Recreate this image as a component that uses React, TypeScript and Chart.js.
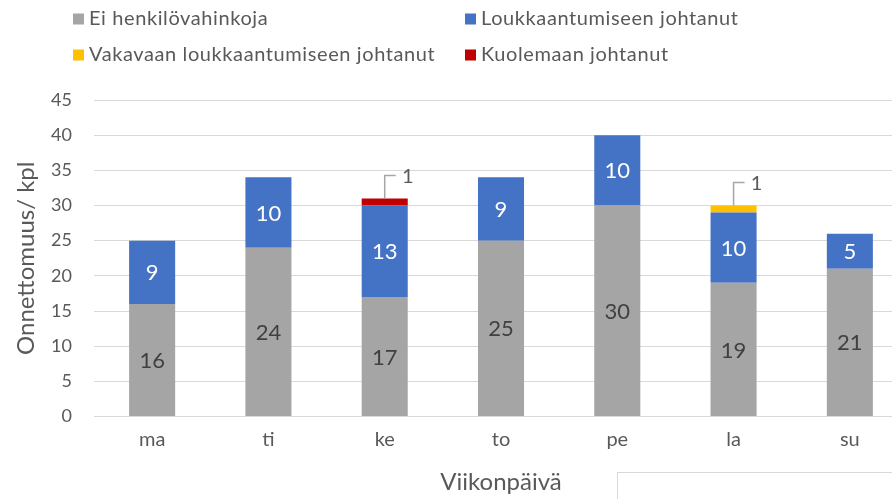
import React, { useEffect, useRef } from "react";
import { Chart, registerables } from "chart.js";

Chart.register(...registerables);

const categories = ["ma", "ti", "ke", "to", "pe", "la", "su"];
const seriesNames = [
  "Ei henkilövahinkoja",
  "Loukkaantumiseen johtanut",
  "Vakavaan loukkaantumiseen johtanut",
  "Kuolemaan johtanut",
];
const noInjury = [16, 24, 17, 25, 30, 19, 21];
const injury = [9, 10, 13, 9, 10, 10, 5];
const severeInjury = [0, 0, 0, 0, 0, 1, 0];
const fatal = [0, 0, 1, 0, 0, 0, 0];
const seriesColors = ["#A5A5A5", "#4472C4", "#FFC000", "#C00000"];
const yMax = 45;
const yStep = 5;
const yTitle = "Onnettomuus/ kpl";
const xTitle = "Viikonpäivä";

const FONT = "Lato, 'Open Sans', sans-serif";
const TEXT = "#595959";

const legendPlugin = {
  id: "gridLegend",
  afterDraw(chart: any) {
    const ctx = chart.ctx;
    const cols = [73, 465];
    const rows = [19, 55];
    ctx.save();
    chart.data.datasets.forEach((ds: any, i: number) => {
      const x = cols[i % 2];
      const y = rows[Math.floor(i / 2)];
      ctx.fillStyle = ds.backgroundColor;
      ctx.fillRect(x, y - 5.5, 11, 11);
      ctx.fillStyle = TEXT;
      ctx.font = `20px ${FONT}`;
      (ctx as any).letterSpacing = "0.6px";
      ctx.textBaseline = "middle";
      ctx.textAlign = "left";
      ctx.fillText(ds.label, x + 16, y);
    });
    (ctx as any).letterSpacing = "0px";
    ctx.restore();
  },
};

const labelPlugin = {
  id: "barLabels",
  afterDatasetsDraw(chart: any) {
    const ctx = chart.ctx;
    ctx.save();
    ctx.textAlign = "center";
    ctx.textBaseline = "middle";
    chart.data.datasets.forEach((ds: any, di: number) => {
      const meta = chart.getDatasetMeta(di);
      meta.data.forEach((el: any, i: number) => {
        const v = ds.data[i];
        if (!v) return;
        const { x, y, base } = el.getProps(["x", "y", "base"], true);
        if (di < 2) {
          ctx.font = `22px ${FONT}`;
          ctx.fillStyle = di === 0 ? "#404040" : "#FFFFFF";
          ctx.fillText(String(v), x, (y + base) / 2 + 1);
        } else {
          const ly = y - 23;
          ctx.strokeStyle = "#A6A6A6";
          ctx.lineWidth = 1.5;
          ctx.beginPath();
          ctx.moveTo(x, y);
          ctx.lineTo(x, ly);
          ctx.lineTo(x + 11, ly);
          ctx.stroke();
          ctx.font = `20px ${FONT}`;
          ctx.fillStyle = TEXT;
          ctx.fillText(String(v), x + 23, ly + 1);
        }
      });
    });
    ctx.restore();
  },
};

export default function App() {
  const ref = useRef<HTMLCanvasElement>(null);
  useEffect(() => {
    document.body.style.margin = "0";
    const data = [noInjury, injury, severeInjury, fatal];
    const chart = new Chart(ref.current as HTMLCanvasElement, {
      type: "bar",
      data: {
        labels: categories,
        datasets: data.map((d, i) => ({
          label: seriesNames[i],
          data: d,
          backgroundColor: seriesColors[i],
          borderWidth: 0,
          barPercentage: 0.396,
          categoryPercentage: 1,
        })),
      },
      options: {
        animation: false,
        responsive: false,
        maintainAspectRatio: false,
        layout: { padding: { top: 100, left: 0, right: 4, bottom: 0 } },
        plugins: {
          legend: { display: false },
          tooltip: { enabled: false },
        },
        scales: {
          x: {
            stacked: true,
            grid: { display: false, drawTicks: false },
            border: { display: true, color: "#D9D9D9" },
            ticks: {
              color: TEXT,
              font: { family: FONT, size: 20 },
              padding: 11,
            },
            title: {
              display: true,
              text: xTitle,
              color: TEXT,
              font: { family: FONT, size: 24 },
              padding: { top: 0, bottom: 2 },
            },
            afterFit(axis: any) {
              axis.height = 82.5;
            },
          },
          y: {
            stacked: true,
            min: 0,
            max: yMax,
            ticks: {
              stepSize: yStep,
              color: TEXT,
              font: { family: FONT, size: 18 },
              padding: 22,
            },
            grid: { color: "#D9D9D9", lineWidth: 1, drawTicks: false },
            border: { display: false },
            title: {
              display: true,
              text: yTitle,
              color: TEXT,
              font: { family: FONT, size: 24 },
              padding: { top: 12, bottom: 0 },
            },
            afterFit(axis: any) {
              axis.width = 94;
            },
          },
        },
      },
      plugins: [legendPlugin, labelPlugin],
    });
    return () => chart.destroy();
  }, []);
  return (
    <div
      style={{
        position: "relative",
        width: 892,
        height: 499,
        overflow: "hidden",
        background: "#FFFFFF",
      }}
    >
      <canvas ref={ref} width={912} height={499} style={{ display: "block" }} />
      <div
        style={{
          position: "absolute",
          left: 617,
          top: 472,
          width: 400,
          height: 100,
          border: "1px solid #D9D9D9",
        }}
      />
    </div>
  );
}
